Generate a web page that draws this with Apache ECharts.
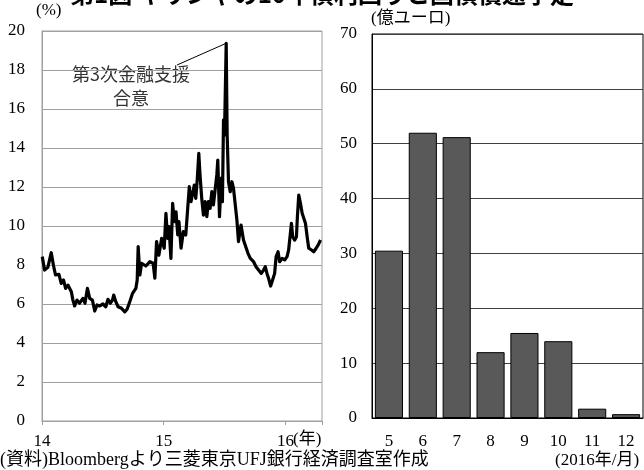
<!DOCTYPE html>
<html>
<head>
<meta charset="utf-8">
<script src="https://cdn.jsdelivr.net/npm/echarts@6/dist/echarts.min.js"></script>
<style>
  html, body { margin: 0; padding: 0; background: #fff; }
  #chart { width: 644px; height: 470px; }
</style>
</head>
<body>
<div id="chart"></div>
<script>
// ギリシャ10年債利回り (%), 横軸は年 (14 = 2014年初)
const years = [
  14.002, 14.021, 14.048, 14.076, 14.095, 14.111, 14.139, 14.158, 14.177, 14.194,
  14.213, 14.241, 14.254, 14.268, 14.287, 14.309, 14.336, 14.353, 14.373, 14.392,
  14.414, 14.433, 14.452, 14.474, 14.501, 14.524, 14.542, 14.562, 14.579, 14.589,
  14.606, 14.625, 14.653, 14.680, 14.699, 14.721, 14.744, 14.771, 14.782, 14.790,
  14.804, 14.818, 14.853, 14.886, 14.913, 14.927, 14.941, 14.960, 14.983, 15.004,
  15.018, 15.032, 15.043, 15.059, 15.073, 15.087, 15.101, 15.115, 15.125, 15.142,
  15.161, 15.181, 15.197, 15.210, 15.224, 15.238, 15.251, 15.263, 15.276, 15.288,
  15.298, 15.312, 15.326, 15.340, 15.354, 15.367, 15.381, 15.395, 15.408, 15.422,
  15.436, 15.444, 15.458, 15.472, 15.482, 15.491, 15.499, 15.513, 15.521, 15.532,
  15.546, 15.560, 15.573, 15.587, 15.601, 15.614, 15.635, 15.655, 15.669, 15.692,
  15.711, 15.738, 15.758, 15.779, 15.801, 15.820, 15.834, 15.848, 15.861, 15.878,
  15.894, 15.911, 15.923, 15.939, 15.952, 15.972, 15.993, 16.013, 16.026, 16.040,
  16.049, 16.059, 16.076, 16.090, 16.098, 16.109, 16.123, 16.137, 16.150, 16.164,
  16.178, 16.191, 16.214, 16.232, 16.252, 16.269, 16.288
];
const yields = [
  8.43, 7.74, 7.88, 8.63, 7.95, 7.49, 7.52, 7.06, 7.23, 6.80,
  6.97, 6.63, 6.20, 5.90, 6.20, 6.04, 6.29, 6.04, 6.80, 6.29,
  6.20, 5.64, 5.95, 5.90, 6.00, 5.86, 6.24, 6.04, 6.20, 6.46,
  6.12, 5.86, 5.78, 5.60, 5.73, 6.12, 6.55, 6.80, 7.23, 8.94,
  7.49, 8.09, 7.95, 8.17, 8.09, 7.32, 9.20, 8.50, 9.37, 8.86,
  10.65, 9.37, 9.97, 8.34, 11.16, 10.22, 10.73, 9.54, 10.22, 8.86,
  9.71, 9.54, 10.91, 12.02, 11.25, 11.68, 12.10, 11.42, 12.45, 13.73,
  12.62, 11.42, 10.56, 11.25, 10.48, 11.25, 10.91, 11.76, 11.08, 11.85,
  12.62, 13.38, 10.48, 12.45, 11.25, 15.44, 14.67, 19.37, 14.67, 12.27,
  11.76, 12.27, 11.93, 11.90, 10.30, 9.20, 10.05, 9.28, 9.37, 8.60,
  8.34, 8.17, 7.91, 7.74, 7.57, 7.74, 7.91, 7.57, 7.32, 6.92,
  7.23, 7.57, 8.43, 8.68, 8.17, 8.34, 8.26, 8.43, 8.77, 8.68,
  10.14, 9.45, 9.28, 9.45, 10.48, 11.59, 11.16, 10.65, 10.73, 10.14,
  9.45, 8.86, 8.77, 8.68, 8.86, 9.03, 9.28
];
// 国債償還予定 (億ユーロ), 2016年5月〜12月
const months = ['5', '6', '7', '8', '9', '10', '11', '12'];
const redemption = [30.5, 52.0, 51.2, 12.0, 15.5, 14.0, 1.7, 0.7];

const serif = "'Liberation Serif', 'Noto Sans CJK JP', serif";
const label = { color: '#000', fontSize: 17, fontFamily: serif };

const chart = echarts.init(document.getElementById('chart'));
chart.setOption({
  animation: false,
  grid: [
    { left: 42, top: 31, width: 280, height: 390, show: true, borderColor: '#a0a0a0', borderWidth: 1 },
    { left: 372, top: 34, width: 271, height: 384, show: true, borderColor: '#000', borderWidth: 1 }
  ],
  xAxis: [
    {
      gridIndex: 0, type: 'value', min: 14, max: 16.3, interval: 1,
      axisLine: { lineStyle: { color: '#a0a0a0' } },
      axisTick: { show: true, length: 4, lineStyle: { color: '#a0a0a0' } },
      splitLine: { show: false },
      axisLabel: Object.assign({}, label, {
        margin: 12,
        formatter: v => (Math.abs(v - Math.round(v)) < 1e-6 ? String(Math.round(v)) : '')
      })
    },
    {
      gridIndex: 1, type: 'category', data: months,
      axisLine: { lineStyle: { color: '#000' } },
      axisTick: { show: false },
      axisLabel: Object.assign({}, label, { margin: 15 })
    }
  ],
  yAxis: [
    {
      gridIndex: 0, type: 'value', min: 0, max: 20, interval: 2,
      axisLine: { show: true, lineStyle: { color: '#a0a0a0' } },
      axisTick: { show: false },
      splitLine: { lineStyle: { color: '#a0a0a0' } },
      axisLabel: Object.assign({}, label, { margin: 17 })
    },
    {
      gridIndex: 1, type: 'value', min: 0, max: 70, interval: 10,
      axisLine: { show: true, lineStyle: { color: '#000' } },
      axisTick: { show: false },
      splitLine: { lineStyle: { color: '#404040' } },
      axisLabel: Object.assign({}, label, { margin: 15 })
    }
  ],
  series: [
    {
      type: 'line', xAxisIndex: 0, yAxisIndex: 0,
      data: years.map((t, i) => [t, yields[i]]),
      showSymbol: false, symbol: 'none',
      lineStyle: { color: '#000', width: 3.2, join: 'round' }
    },
    {
      type: 'bar', xAxisIndex: 1, yAxisIndex: 1,
      data: redemption, barCategoryGap: '17%',
      itemStyle: { color: '#595959', borderColor: '#000', borderWidth: 1 }
    }
  ],
  graphic: [
    { type: 'text', id: 'title', left: 'center', top: -18,
      style: { text: '第1図 ギリシャの10年債利回りと国債償還予定', fill: '#000',
               font: "bold 24px 'Noto Sans CJK JP'" } },
    { type: 'text', id: 'pct', left: 36, top: 2,
      style: { text: '(%)', fill: '#000', font: '17px ' + serif } },
    { type: 'text', id: 'oku', left: 371, top: 10,
      style: { text: '(億ユーロ)', fill: '#000', font: '17px ' + serif } },
    { type: 'text', id: 'nen', left: 293, top: 431,
      style: { text: '(年)', fill: '#000', font: '17px ' + serif } },
    { type: 'text', id: 'ym', left: 555, top: 452,
      style: { text: '(2016年/月)', fill: '#000', font: '17px ' + serif } },
    { type: 'text', id: 'src', left: 0, top: 451,
      style: { text: '(資料)Bloombergより三菱東京UFJ銀行経済調査室作成', fill: '#000', font: '18px ' + serif } }
  ]
});

// 注記: 最高値の点から引き出し線
const peak = yields.indexOf(Math.max(...yields));
const p = chart.convertToPixel({ gridIndex: 0 }, [years[peak], yields[peak]]);
chart.setOption({
  graphic: [
    { type: 'line', id: 'lead', shape: { x1: p[0], y1: p[1], x2: 177, y2: 65 },
      style: { stroke: '#000', lineWidth: 1 } },
    { type: 'text', id: 'note', x: 131, y: 62,
      style: { text: '第3次金融支援\n合意', fill: '#333', align: 'center', lineHeight: 24,
               font: "18px 'Noto Sans CJK JP'" } }
  ]
});
</script>
</body>
</html>
